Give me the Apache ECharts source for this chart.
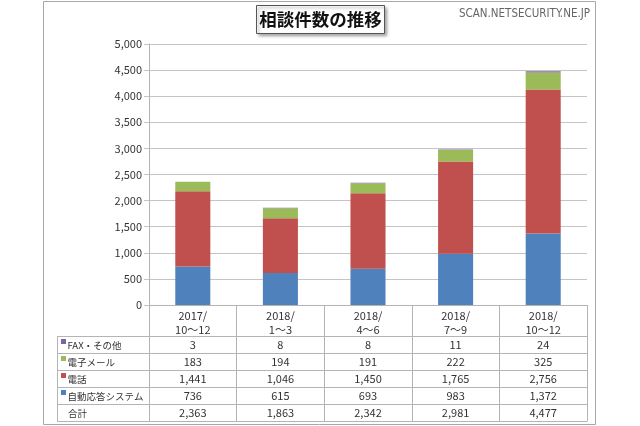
<!DOCTYPE html>
<html><head><meta charset="utf-8">
<script src="https://cdn.jsdelivr.net/npm/echarts@6/dist/echarts.min.js"></script>
<style>html,body{margin:0;padding:0;background:#fff}#c{width:640px;height:426px}</style>
</head><body><div id="c"></div>
<script>
const titleText = '相談件数の推移';
const watermark = 'SCAN.NETSECURITY.NE.JP';
const categories = ['2017/\n10～12', '2018/\n1～3', '2018/\n4～6', '2018/\n7～9', '2018/\n10～12'];
const yTicks = [0, 500, 1000, 1500, 2000, 2500, 3000, 3500, 4000, 4500, 5000];
const faxOther = [3, 8, 8, 11, 24];
const email = [183, 194, 191, 222, 325];
const phone = [1441, 1046, 1450, 1765, 2756];
const autoReply = [736, 615, 693, 983, 1372];
const totals = [2363, 1863, 2342, 2981, 4477];
const seriesNames = ['自動応答システム', '電話', '電子メール', 'FAX・その他'];
const totalLabel = '合計';

const colors = {auto: '#4F81BD', phone: '#C0504D', email: '#9BBB59', fax: '#8064A2'};
const FONT = '"Noto Sans CJK JP", "Noto Sans", sans-serif';
const gridLine = '#c4c4c4';
const tableLine = '#b4b4b4';

// table layout
const axisY = 305, firstRowTop = 336, rowH = 17, tableLeft = 57, plotLeft = 149;
const rows = [
  {name: seriesNames[3], vals: faxOther, color: colors.fax},
  {name: seriesNames[2], vals: email, color: colors.email},
  {name: seriesNames[1], vals: phone, color: colors.phone},
  {name: seriesNames[0], vals: autoReply, color: colors.auto},
  {name: totalLabel, vals: totals, color: null}
];
const fmt = v => v.toLocaleString('en-US');

const xAxes = [{
  type: 'category', gridIndex: 0, position: 'bottom', data: categories,
  axisLine: {show: true, lineStyle: {color: tableLine}},
  axisTick: {show: true, alignWithLabel: false, interval: 0, length: Math.round(firstRowTop + rowH * rows.length - axisY), lineStyle: {color: tableLine}},
  axisLabel: {interval: 0, margin: 4, fontSize: 11, lineHeight: 14, color: '#333', fontFamily: FONT},
  splitLine: {show: false}
}];
rows.forEach((r, k) => {
  xAxes.push({
    type: 'category', gridIndex: 0, position: 'bottom', data: categories,
    offset: Math.round(firstRowTop + rowH * k - axisY),
    axisLine: {show: true, lineStyle: {color: tableLine}},
    axisTick: {show: false},
    axisLabel: {interval: 0, margin: 3, fontSize: 11, color: '#333', fontFamily: FONT,
      formatter: (v, i) => fmt(r.vals[i])},
    splitLine: {show: false}
  });
});
xAxes.push({
  type: 'category', gridIndex: 0, position: 'bottom', data: categories,
  offset: Math.round(firstRowTop + rowH * rows.length - axisY),
  axisLine: {show: true, lineStyle: {color: tableLine}},
  axisTick: {show: false}, axisLabel: {show: false}, splitLine: {show: false}
});

const graphic = [
  {type: 'rect', shape: {x: 43.5, y: 1.5, width: 552, height: 423}, style: {fill: 'none', stroke: '#a8a8a8', lineWidth: 1}, silent: true},
  {type: 'rect', shape: {x: 256.5, y: 5.5, width: 128, height: 28}, style: {fill: '#fff', stroke: '#555', lineWidth: 1, shadowBlur: 3, shadowOffsetX: 2, shadowOffsetY: 2, shadowColor: 'rgba(0,0,0,0.35)'}, silent: true},
  {type: 'text', x: 320.5, y: 19.5, style: {text: titleText, fontSize: 17.5, fontWeight: 'bold', fontFamily: FONT, fill: '#111', align: 'center', verticalAlign: 'middle'}},
  {type: 'text', x: 590, y: 14, style: {text: watermark, fontSize: 11.5, fontFamily: '"Liberation Sans Narrow", "DejaVu Sans Condensed", sans-serif', fill: '#666', align: 'right', verticalAlign: 'middle'}},
  {type: 'line', shape: {x1: tableLeft + 0.5, y1: firstRowTop, x2: tableLeft + 0.5, y2: firstRowTop + rowH * rows.length}, style: {stroke: tableLine, lineWidth: 1}}
];
for (let k = 0; k <= rows.length; k++) {
  const y = Math.round(firstRowTop + rowH * k) + 0.5;
  graphic.push({type: 'line', shape: {x1: tableLeft, y1: y, x2: plotLeft, y2: y}, style: {stroke: tableLine, lineWidth: 1}});
}
rows.forEach((r, k) => {
  const cy = firstRowTop + rowH * k + rowH / 2 + 0.5;
  if (r.color) graphic.push({type: 'rect', shape: {x: 61, y: cy - 6, width: 5, height: 5}, style: {fill: r.color}});
  graphic.push({type: 'text', x: r.color ? 67.5 : 68, y: cy, style: {text: r.name, fontSize: 9.5, fontFamily: FONT, fill: '#333', verticalAlign: 'middle'}});
});

const chart = echarts.init(document.getElementById('c'), null, {renderer: 'canvas'});
chart.setOption({
  animation: false,
  backgroundColor: '#fff',
  grid: {left: plotLeft, right: 53, top: 44, bottom: 426 - axisY, containLabel: false},
  xAxis: xAxes,
  yAxis: {
    type: 'value', min: yTicks[0], max: yTicks[yTicks.length - 1], interval: yTicks[1] - yTicks[0],
    axisLine: {show: true, lineStyle: {color: tableLine}},
    axisTick: {show: true, length: 5, lineStyle: {color: gridLine}},
    axisLabel: {margin: 7, fontSize: 11, color: '#333', fontFamily: FONT, formatter: v => fmt(v)},
    splitLine: {lineStyle: {color: gridLine, width: 1}}
  },
  series: [
    {name: seriesNames[0], type: 'bar', stack: 't', data: autoReply, itemStyle: {color: colors.auto}, barWidth: '40%'},
    {name: seriesNames[1], type: 'bar', stack: 't', data: phone, itemStyle: {color: colors.phone}, barWidth: '40%'},
    {name: seriesNames[2], type: 'bar', stack: 't', data: email, itemStyle: {color: colors.email}, barWidth: '40%'},
    {name: seriesNames[3], type: 'bar', stack: 't', data: faxOther, itemStyle: {color: colors.fax}, barWidth: '40%'}
  ],
  graphic: graphic
});
</script></body></html>
